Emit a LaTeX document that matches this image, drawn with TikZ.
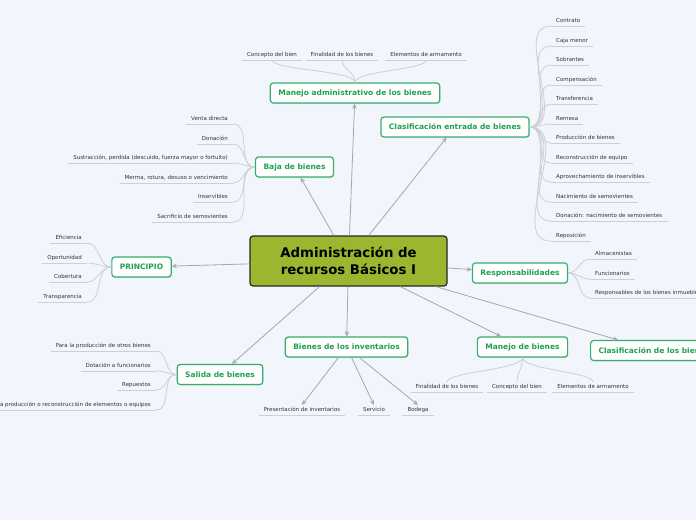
\documentclass[tikz,border=0pt]{standalone}
\usepackage{fontspec}
\setmainfont{DejaVu Sans}
\usetikzlibrary{arrows.meta,shadows}
\definecolor{bgpaper}{HTML}{F3F5FD}
\definecolor{mapgreen}{HTML}{1FA150}
\definecolor{mapedge}{HTML}{36AE6C}
\definecolor{rootfill}{HTML}{9DB630}
\definecolor{leaftext}{HTML}{333333}
\definecolor{twiggray}{HTML}{CDCFD6}
\definecolor{arrgray}{HTML}{A5A7AD}
\tikzset{
  root/.style={draw=black!85, line width=1.2pt, fill=rootfill, rounded corners=3pt,
    minimum width=197pt, minimum height=50pt, align=center,
    font=\bfseries\fontsize{13.3}{17}\selectfont},
  branch/.style={draw=mapedge, line width=1.2pt, fill=white, rounded corners=3pt,
    minimum height=20pt, inner xsep=8pt, text=mapgreen,
    font=\bfseries\fontsize{7.5}{9}\selectfont,
    drop shadow={shadow xshift=0.6pt, shadow yshift=-1pt, opacity=.2}},
  leaf/.style={text=leaftext, font=\fontsize{5.5}{6.5}\selectfont, inner xsep=5pt,
    inner ysep=2pt, text height=4.3pt, text depth=1.2pt},
  rleaf/.style={leaf, anchor=south west},
  lleaf/.style={leaf, anchor=south east},
  uline/.style={draw=twiggray, line width=0.8pt},
  twig/.style={draw=twiggray, line width=0.8pt},
  limb/.style={draw=arrgray, line width=0.8pt, -{Stealth[length=5pt,width=4.5pt]}},
}
\begin{document}
\begin{tikzpicture}[x=1pt,y=-1pt]
    \fill[bgpaper] (0,0) rectangle (696,520);
    \useasboundingbox (0,0) rectangle (696,520);
    % centre and main branches
    \node[root] (root) at (348.5,261) {Administración de\\recursos Básicos I};
    \node[branch] (madm) at (355,93) {Manejo administrativo de los bienes};
    \node[branch] (cent) at (455,127) {Clasificación entrada de bienes};
    \node[branch] (baja) at (294.5,167) {Baja de bienes};
    \node[branch] (princ) at (141.5,267) {PRINCIPIO};
    \node[branch] (resp) at (520,273) {Responsabilidades};
    \node[branch] (salida) at (220,374.5) {Salida de bienes};
    \node[branch] (binv) at (346.5,347) {Bienes de los inventarios};
    \node[branch] (mbien) at (522.5,347) {Manejo de bienes};
    \node[branch, anchor=west] (cbien) at (590,350.5) {Clasificación de los bienes};
    \foreach \b in {madm,cent,baja,princ,resp,salida,binv,mbien,cbien}
        \draw[limb] (root) -- (\b);
    % Manejo administrativo
    \foreach \t/\x [count=\i] in {{Concepto del bien}/272,{Finalidad de los bienes}/342,{Elementos de armamento}/426}{
        \node[leaf, anchor=south] (ma\i) at (\x,60) {\t};
        \draw[uline] (ma\i.south west) -- (ma\i.south east);
        \draw[twig] (ma\i.south) .. controls +(0,10) and +(0,-12) .. (madm.north);
    }
    % Clasificacion entrada
    \foreach \t/\y [count=\i] in {Contrato/20,{Caja menor}/40,Sobrantes/59,Compensación/79,
        Transferencia/98,Remesa/118,{Producción de bienes}/137,{Reconstrucción de equipo}/157,
        {Aprovechamiento de inservibles}/176,{Nacimiento de semovientes}/196,
        {Donación: nacimiento de semovientes}/215,Reposición/235}{
        \node[rleaf] (ce\i) at (551,\y+6) {\t};
        \draw[uline] (ce\i.south west) -- (ce\i.south east);
        \draw[twig] (cent.east) to[out=0,in=180] (ce\i.south west);
    }
    % Baja
    \foreach \t/\y [count=\i] in {{Venta directa}/118,Donación/138,
        {Sustracción, perdida (descuido, fuerza mayor o fortuito)}/157,
        {Merma, rotura, desuso o vencimiento}/177,Inservibles/196,{Sacrificio de semovientes}/216}{
        \node[lleaf] (bj\i) at (233,\y+6) {\t};
        \draw[uline] (bj\i.south west) -- (bj\i.south east);
        \draw[twig] (baja.west) to[out=180,in=0] (bj\i.south east);
    }
    % Principio
    \foreach \t/\y [count=\i] in {Eficiencia/237,Oportunidad/257,Cobertura/276,Transparencia/296}{
        \node[lleaf] (pr\i) at (87,\y+6) {\t};
        \draw[uline] (pr\i.south west) -- (pr\i.south east);
        \draw[twig] (princ.west) to[out=180,in=0] (pr\i.south east);
    }
    % Responsabilidades
    \foreach \t/\y [count=\i] in {Almacenistas/253,Funcionarios/273,{Responsables de los bienes inmuebles}/292}{
        \node[rleaf] (re\i) at (590,\y+6) {\t};
        \draw[uline] (re\i.south west) -- (re\i.south east);
        \draw[twig] (resp.east) to[out=0,in=180] (re\i.south west);
    }
    % Salida
    \foreach \t/\y [count=\i] in {{Para la producción de otros bienes}/345,{Dotación a funcionarios}/365,
        Repuestos/384,{Para la producción o reconstrucción de elementos o equipos}/404}{
        \node[lleaf] (sa\i) at (156,\y+6) {\t};
        \draw[uline] (sa\i.south west) -- (sa\i.south east);
        \draw[twig] (salida.west) to[out=180,in=0] (sa\i.south east);
    }
    % Bienes de los inventarios
    \foreach \t/\x [count=\i] in {{Presentación de inventarios}/302,Servicio/374,Bodega/418}{
        \node[leaf, anchor=north] (bi\i) at (\x,405) {\t};
        \draw[uline] (bi\i.south west) -- (bi\i.south east);
        \draw[limb] (binv) -- (bi\i.north);
    }
    % Manejo de bienes
    \foreach \t/\x [count=\i] in {{Finalidad de los bienes}/447,{Concepto del bien}/517,{Elementos de armamento}/593}{
        \node[leaf, anchor=north] (mb\i) at (\x,382) {\t};
        \draw[uline] (mb\i.south west) -- (mb\i.south east);
        \draw[twig] (mbien.south) .. controls +(0,12) and +(0,-10) .. (mb\i.north);
    }
\end{tikzpicture}
\end{document}
